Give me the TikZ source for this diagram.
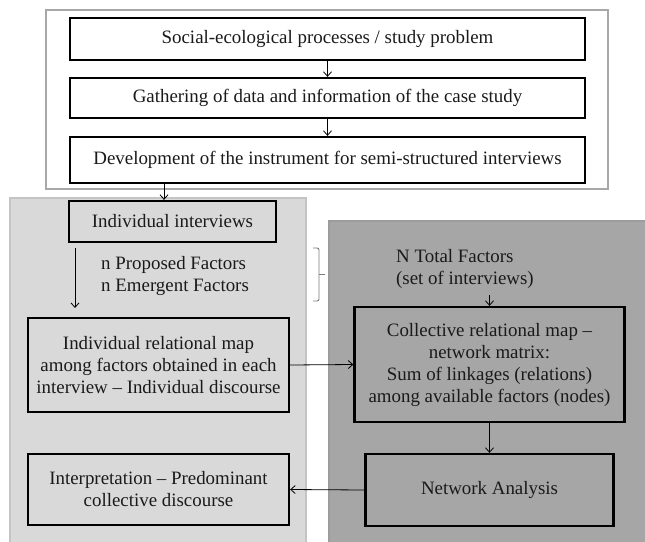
\documentclass[tikz,border=0pt]{standalone}
\usepackage{fontspec}
\setmainfont{Liberation Serif}
\usetikzlibrary{arrows.meta}
\definecolor{panelL}{HTML}{D9D9D9}
\definecolor{panelLb}{HTML}{C4C4C4}
\definecolor{panelD}{HTML}{A6A6A6}
\definecolor{panelDb}{HTML}{9C9C9C}
\definecolor{frameb}{HTML}{A8A8A8}
\definecolor{bracec}{HTML}{7A7A7A}
\definecolor{txt}{HTML}{1A1A1A}
\tikzset{
  stepbox/.style={draw=black, line width=2.3pt, align=center, inner sep=0pt, text=txt,
    font=\fontsize{18.9}{22}\selectfont},
  plaintext/.style={align=left, inner sep=0pt, text=txt, font=\fontsize{18.9}{22}\selectfont, anchor=west},
  conn/.style={line width=0.8pt, -{Straight Barb[length=4.5pt,width=8pt,line width=0.8pt]}},
}
\begin{document}
\begin{tikzpicture}[x=1pt,y=-1pt]
\useasboundingbox (0,0) rectangle (645,541);
\clip (0,0) rectangle (645,541);
\fill[white] (0,0) rectangle (645,541);
% panels
\draw[fill=panelL, draw=panelLb, line width=2pt] (10,198) rectangle (306,560);
\draw[fill=panelD, draw=panelDb, line width=2pt] (329,221) rectangle (660,560);
% top frame
\draw[fill=white, draw=frameb, line width=2pt] (46,10) rectangle (608,189);
% top boxes
\node[stepbox, minimum width=515pt, minimum height=42pt] (b1) at (327.5,39) {Social-ecological processes / study problem};
\node[stepbox, minimum width=515pt, minimum height=40pt] (b2) at (327.5,98) {Gathering of data and information of the case study};
\node[stepbox, minimum width=515pt, minimum height=46pt] (b3) at (327.5,160) {Development of the instrument for semi-structured interviews};
% left panel boxes
\node[stepbox, minimum width=207pt, minimum height=41pt] (ii) at (172.5,221.5) {Individual interviews};
\node[stepbox, minimum width=261pt, minimum height=94pt] (irm) at (158.5,365) {Individual relational map\\among factors obtained in each\\interview -- Individual discourse};
\node[stepbox, minimum width=261pt, minimum height=71pt] (interp) at (158.5,489.5) {Interpretation -- Predominant\\collective discourse};
% right panel boxes
\node[stepbox, minimum width=270pt, minimum height=115pt] (cm) at (489.5,364.5) {Collective relational map --\\network matrix:\\Sum of linkages (relations)\\among available factors (nodes)};
\node[stepbox, minimum width=248pt, minimum height=72pt] (na) at (489.5,490) {Network Analysis};
% free texts
\node[plaintext] (fac) at (101,276) {n Proposed Factors\\n Emergent Factors};
\node[plaintext] (ntf) at (396,269) {N Total Factors\\(set of interviews)};
% coordinates
\coordinate (a1) at (164,0);
\coordinate (la1) at (75,248);
\coordinate (la2) at (75,308);
\coordinate (nt1) at (489.5,295);
% connectors
\draw[conn] (b1.south) -- (b2.north);
\draw[conn] (b2.south) -- (b3.north);
\draw[conn] (b3.south -| a1) -- (ii.north -| a1);
\draw[conn] (la1) -- (la2);
\draw[conn] (nt1) -- (cm.north);
\draw[conn] (irm.east) -- (cm.west);
\draw[conn] (cm.south) -- (na.north);
\draw[conn] (na.west) -- (interp.east);
% brace
\draw[bracec, line width=0.9pt, rounded corners=2pt] (313,248) -- (319,248) -- (319,301) -- (313,301);
\draw[bracec, line width=0.9pt] (319,274) -- (325,274);
\end{tikzpicture}
\end{document}
